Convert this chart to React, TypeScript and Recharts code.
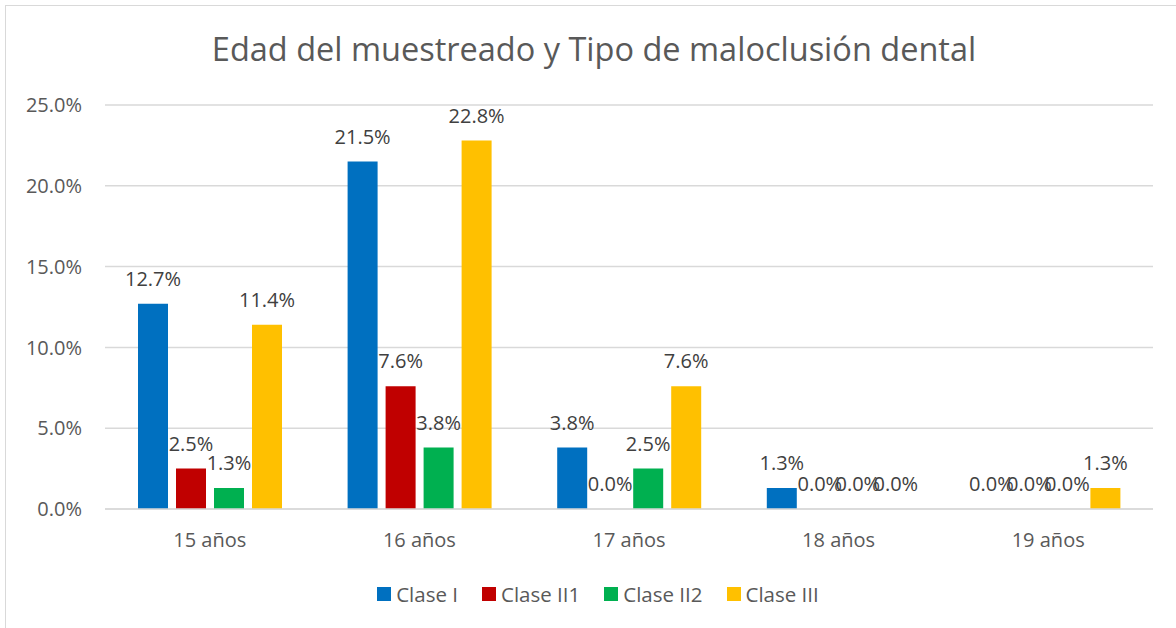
import { Bar, BarChart, CartesianGrid, LabelList, XAxis, YAxis } from "recharts";

const categories = ["15 años", "16 años", "17 años", "18 años", "19 años"];
const claseI = [12.7, 21.5, 3.8, 1.3, 0.0];
const claseII1 = [2.5, 7.6, 0.0, 0.0, 0.0];
const claseII2 = [1.3, 3.8, 2.5, 0.0, 0.0];
const claseIII = [11.4, 22.8, 7.6, 0.0, 1.3];
const yTicks = [0, 5, 10, 15, 20, 25];

const series = [
  { key: "claseI", name: "Clase I", color: "#0070C0", values: claseI },
  { key: "claseII1", name: "Clase II1", color: "#C00000", values: claseII1 },
  { key: "claseII2", name: "Clase II2", color: "#00B050", values: claseII2 },
  { key: "claseIII", name: "Clase III", color: "#FFC000", values: claseIII },
];

const data = categories.map((c, i) => {
  const row: Record<string, string | number> = { label: c };
  series.forEach((s) => (row[s.key] = s.values[i]));
  return row;
});

const FONT = "'Open Sans', sans-serif";
const pct = (v: number) => `${Number(v).toFixed(1)}%`;

// data label drawn above the bar, also for zero-height bars
const renderLabel = (props: any) => {
  const { x, y, width, height, value } = props;
  if (value == null) return null;
  const top = Math.min(Number(y), Number(y) + Number(height || 0));
  return (
    <text
      x={Number(x) + Number(width) / 2}
      y={top - 18}
      textAnchor="middle"
      fill="#404040"
      fontSize={20}
      fontFamily={FONT}
    >
      {pct(value)}
    </text>
  );
};

export default function App() {
  return (
    <div style={{ position: "fixed", left: 0, top: 0, width: 1176, height: 628, overflow: "hidden", background: "#fff" }}>
      <div style={{ position: "absolute", left: 5, top: 5, width: 1200, height: 700, border: "1px solid #d9d9d9" }} />
      <div
        style={{
          position: "absolute",
          left: 0,
          top: 26,
          width: 1188,
          textAlign: "center",
          fontFamily: FONT,
          fontSize: 32.5,
          color: "#595959",
        }}
      >
        Edad del muestreado y Tipo de maloclusión dental
      </div>
      <div style={{ position: "absolute", left: 0, top: 0 }}>
        <BarChart
          width={1176}
          height={628}
          data={data}
          margin={{ top: 105, right: 23, left: 0, bottom: 89 }}
          barSize={30}
          barGap={8}
          barCategoryGap={33}
        >
          <CartesianGrid vertical={false} stroke="#d9d9d9" strokeWidth={1.5} />
          <XAxis
            dataKey="label"
            axisLine={{ stroke: "#d9d9d9", strokeWidth: 1.5 }}
            tickLine={false}
            tickSize={0}
            tickMargin={24}
            height={30}
            tick={{ fill: "#595959", fontSize: 20, fontFamily: FONT }}
          />
          <YAxis
            domain={[0, 25]}
            ticks={yTicks}
            width={105}
            axisLine={false}
            tickLine={false}
            tickSize={0}
            tickMargin={23}
            tickFormatter={pct}
            tick={{ fill: "#595959", fontSize: 20, fontFamily: FONT }}
          />
          {series.map((s) => (
            <Bar
              key={s.key}
              dataKey={s.key}
              name={s.name}
              fill={s.color}
              minPointSize={0.01}
              isAnimationActive={false}
            >
              <LabelList dataKey={s.key} content={renderLabel} />
            </Bar>
          ))}
        </BarChart>
      </div>
      <div
        style={{
          position: "absolute",
          left: 0,
          top: 580,
          width: 1176,
          display: "flex",
          justifyContent: "center",
          paddingLeft: 44,
          boxSizing: "border-box",
          fontFamily: FONT,
          fontSize: 20.5,
          color: "#595959",
        }}
      >
        {series.map((s) => (
          <div key={s.key} style={{ display: "flex", alignItems: "center", marginRight: 24 }}>
            <span style={{ width: 14, height: 14, background: s.color, marginRight: 5, display: "inline-block" }} />
            <span>{s.name}</span>
          </div>
        ))}
      </div>
    </div>
  );
}
